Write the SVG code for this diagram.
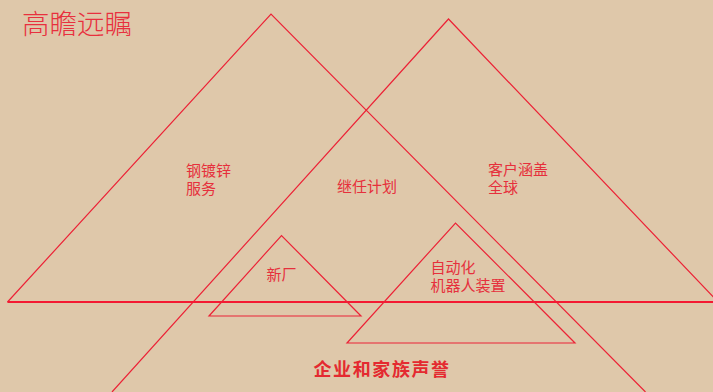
<svg xmlns="http://www.w3.org/2000/svg" width="713" height="392" viewBox="0 0 713 392">
<style>
.ln{fill:none;stroke:#ec2236;stroke-width:1.2;stroke-linejoin:miter}
.base{fill:none;stroke:#f41a32;stroke-width:1.8}
.t{font-family:"Noto Sans CJK SC","Noto Sans",sans-serif;fill:#e6303c;font-size:15px}
.title{font-family:"Noto Sans CJK SC","Noto Sans",sans-serif;fill:#e8303e;font-size:27.5px;font-weight:300}
.b{font-family:"Noto Sans CJK SC","Noto Sans",sans-serif;fill:#e42a30;font-size:18px;font-weight:bold;letter-spacing:1.6px}
</style>
<rect width="713" height="392" fill="#dfc8aa"/>
<g id="connectors">
<polyline class="ln" points="7.5,302 271,14 645.5,392"/>
<polyline class="ln" points="112,392 448.5,19 720,304"/>
<line class="base" x1="7.5" y1="302" x2="713" y2="302"/>
<polygon class="ln" points="209,316 281.5,235.5 361,316"/>
<polygon class="ln" points="347,343 455.5,223 575,343"/>
</g>
<g id="title"><text class="title" x="22" y="33.5">高瞻远瞩</text></g>
<g id="node-galv"><text class="t" x="186" y="176">钢镀锌</text><text class="t" x="186" y="194">服务</text></g>
<g id="node-succ"><text class="t" x="337" y="192">继任计划</text></g>
<g id="node-cust"><text class="t" x="488" y="175">客户涵盖</text><text class="t" x="488" y="193">全球</text></g>
<g id="node-plant"><text class="t" x="266.5" y="280">新厂</text></g>
<g id="node-auto"><text class="t" x="430.5" y="273">自动化</text><text class="t" x="430.5" y="291">机器人装置</text></g>
<g id="node-rep"><text class="b" x="313.5" y="376">企业和家族声誉</text></g>
</svg>
